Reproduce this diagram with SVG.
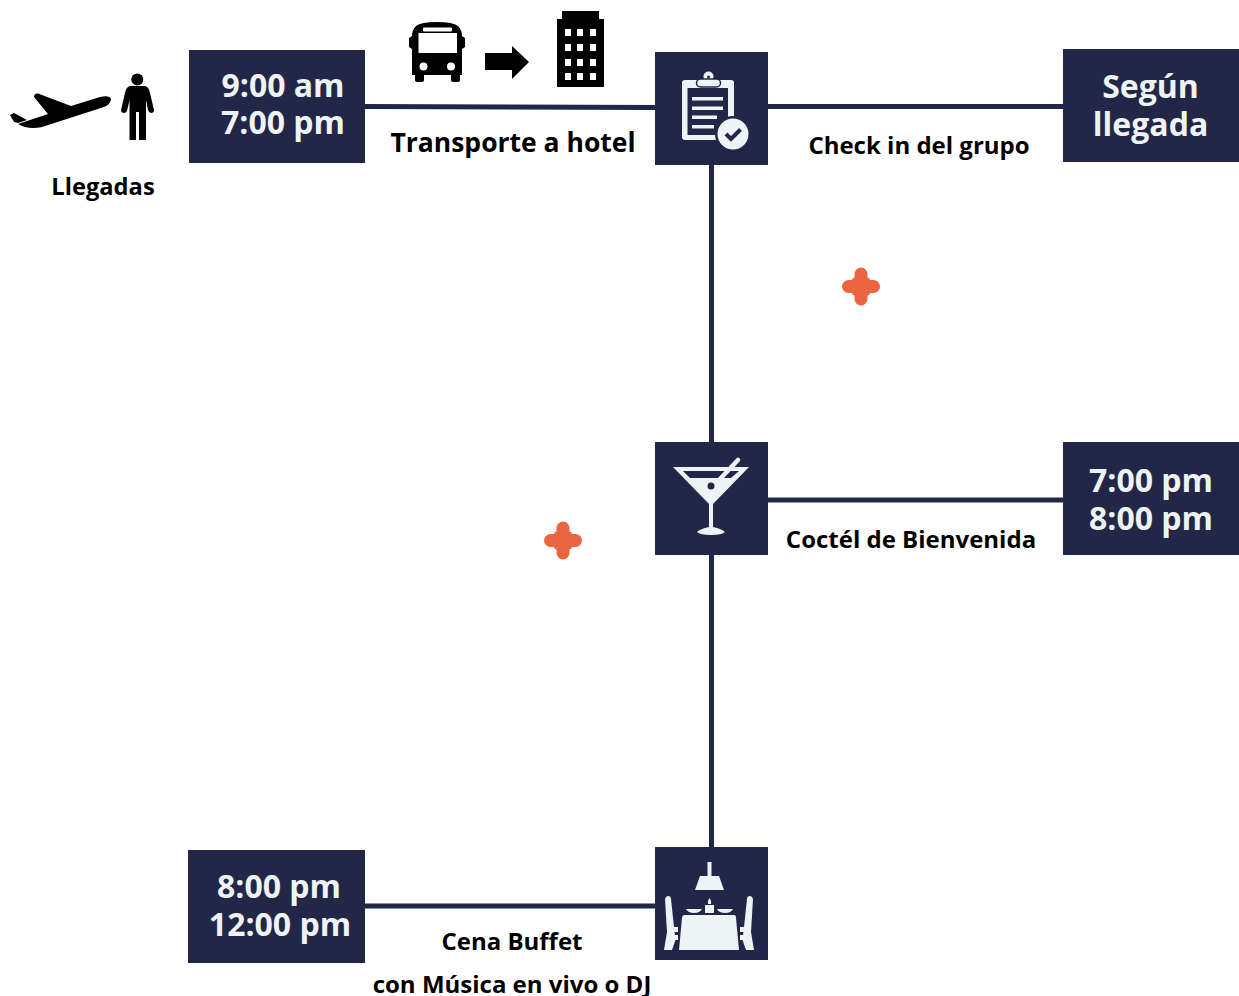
<svg xmlns="http://www.w3.org/2000/svg" width="1239" height="996" viewBox="0 0 1239 996">
<style>
text{font-family:"Open Sans","Noto Sans",sans-serif;text-anchor:middle}
.box{fill:#232747}
.t{font-size:32px;font-weight:700;fill:#eef3f5}
.l{font-weight:700;fill:#000}
.i{fill:#eef3f5}
.d{fill:#232747}
.c{stroke:#232747;stroke-width:5;fill:none}
.x{fill:#ec6541}
</style>
<defs>
<g id="cross"><rect x="-6.500" y="-19" width="13" height="38" rx="6.500"/><rect x="-19" y="-6.500" width="38" height="13" rx="6.500"/><rect x="-9" y="-9" width="18" height="18" rx="3"/></g>
<path id="chair" d="M665 899Q666 896 668 896Q671 896 671 899L674 927H678V932H674.500L675 935H678V940H675.500L672 950H664L667 932Z"/>
</defs>
<g id="connectors">
<path class="c" d="M365 106.500L655 107.500"/>
<path class="c" d="M768 106.500H1063"/>
<path class="c" d="M711.500 165V442"/>
<path class="c" d="M711.500 555V847"/>
<path class="c" d="M768 500H1063"/>
<path class="c" d="M365 906H655"/>
</g>
<g id="arrivals">
<path id="plane" d="M18 124L48 114L34 97Q34 93 38 93.500L71 106L100 97Q110 95 111 99Q111 104 104 107L42 127Q28 130 18 124Z"/>
<path id="plane-tail" d="M10 115L14 113L27 120L18 123L14 122Z"/>
<g id="person"><circle cx="137.300" cy="79.500" r="6"/><path d="M130 86H145Q149 87 150 93L154 110Q154 113 151 113Q149 113 148 110L146 100V140H139V112H136V140H129.500V100L127 111Q126 113 124 113Q121 113 121 110L125 93Q126 87 130 86Z"/></g>
<text class="l" x="103" y="195" font-size="23.700">Llegadas</text>
</g>
<g id="time-1"><rect class="box" x="189" y="50" width="176" height="113"/><text class="t" x="283" y="96.500">9:00 am</text><text class="t" x="283" y="134">7:00 pm</text></g>
<g id="transport">
<g id="bus"><path d="M416 26Q421 22 437 22Q453 22 458 26Q462 30 462 36L465 38V47L462 49V75H460V80Q460 82 457 82H453Q451 82 451 80V75H424V80Q424 82 421 82H418Q415 82 415 80V75H412V49L409 47V38L412 36Q412 30 416 26Z"/><rect x="418.500" y="33" width="38.500" height="20" fill="#fff"/><rect x="423" y="27.500" width="29" height="4" rx="1" fill="#fff"/><circle cx="423.500" cy="66.500" r="4" fill="#fff"/><circle cx="451" cy="66.500" r="4" fill="#fff"/></g>
<path id="arrow" d="M485 53H512V46L529 62L512 79V70H485Z"/>
<g id="hotel"><path d="M562 11H599V19H604V87H557V19H562Z"/><g fill="#fff"><rect x="565" y="29" width="6" height="7"/><rect x="577" y="29" width="6" height="7"/><rect x="590" y="29" width="6" height="7"/><rect x="565" y="44" width="6" height="7"/><rect x="577" y="44" width="6" height="7"/><rect x="590" y="44" width="6" height="7"/><rect x="565" y="59" width="6" height="7"/><rect x="577" y="59" width="6" height="7"/><rect x="590" y="59" width="6" height="7"/><rect x="565" y="73" width="6" height="7"/><rect x="577" y="73" width="6" height="7"/><rect x="590" y="73" width="6" height="7"/></g></g>
<text class="l" x="513" y="152" font-size="26.500">Transporte a hotel</text>
</g>
<g id="checkin"><rect class="box" x="655" y="52" width="113" height="113"/>
<rect class="i" x="682" y="80" width="52" height="60" rx="3"/><rect class="d" x="687.500" y="88" width="40.500" height="47"/>
<circle cx="708.500" cy="76.500" r="5" class="i"/><circle cx="708.500" cy="77" r="1.500" class="d"/><rect class="i" x="696.500" y="79" width="24" height="8" rx="4" stroke="#232747" stroke-width="1.500"/>
<g class="i"><rect x="692" y="97" width="31" height="3.500"/><rect x="692" y="106.500" width="31" height="3.500"/><rect x="692" y="115.500" width="25" height="3.500"/><rect x="692" y="125" width="22" height="3.500"/></g>
<circle class="d" cx="733" cy="134" r="18"/><circle class="i" cx="733" cy="134" r="15.500"/>
<path d="M726 134L731 139L740.500 129.500" fill="none" stroke="#232747" stroke-width="4"/>
</g>
<g id="time-2"><rect class="box" x="1063" y="49" width="176" height="113"/><text class="t" x="1150.500" y="98">Según</text><text class="t" x="1150.500" y="136">llegada</text></g>
<text class="l" x="919" y="154" font-size="24">Check in del grupo</text>
<use href="#cross" class="x" x="861" y="286.500"/>
<g id="cocktail"><rect class="box" x="655" y="442" width="113" height="113"/>
<path class="i" d="M673 467H749L713 504V527Q722 529 725 532Q722 535 711 535Q700 535 697 532Q700 529 709 527V504Z"/>
<path class="d" d="M683 471H739L731 478H690Z"/>
<path d="M738 460L720 479" fill="none" stroke="#eef3f5" stroke-width="4.500" stroke-linecap="round"/>
<circle class="d" cx="711" cy="486" r="3.500"/>
</g>
<g id="time-3"><rect class="box" x="1063" y="442" width="176" height="113"/><text class="t" x="1151" y="492">7:00 pm</text><text class="t" x="1151" y="530">8:00 pm</text></g>
<text class="l" x="911" y="548" font-size="24">Coctél de Bienvenida</text>
<use href="#cross" class="x" x="563" y="540.500"/>
<g id="dinner"><rect class="box" x="655" y="847" width="113" height="113"/>
<g class="i"><rect x="707.500" y="862" width="4" height="15"/><path d="M700 876H719L724 890H695Z"/>
<path d="M685 915H734Q736 915 736 918L739 950H679L682 918Q682 915 685 915Z"/>
<rect x="705" y="905" width="9" height="8"/><path d="M709.500 898Q712 901 711 904H708Q707 901 709.500 898Z"/>
<path d="M686 909H702Q700 913 694 913Q688 913 686 909Z"/><path d="M717 909H733Q731 913 725 913Q719 913 717 909Z"/>
<use href="#chair"/><use href="#chair" transform="translate(1418 0) scale(-1 1)"/></g>
</g>
<g id="time-4"><rect class="box" x="188" y="850" width="177" height="113"/><text class="t" x="279" y="898">8:00 pm</text><text class="t" x="280" y="936">12:00 pm</text></g>
<text class="l" x="512" y="950" font-size="24">Cena Buffet</text>
<text class="l" x="512" y="993" font-size="24">con Música en vivo o DJ</text>
</svg>
